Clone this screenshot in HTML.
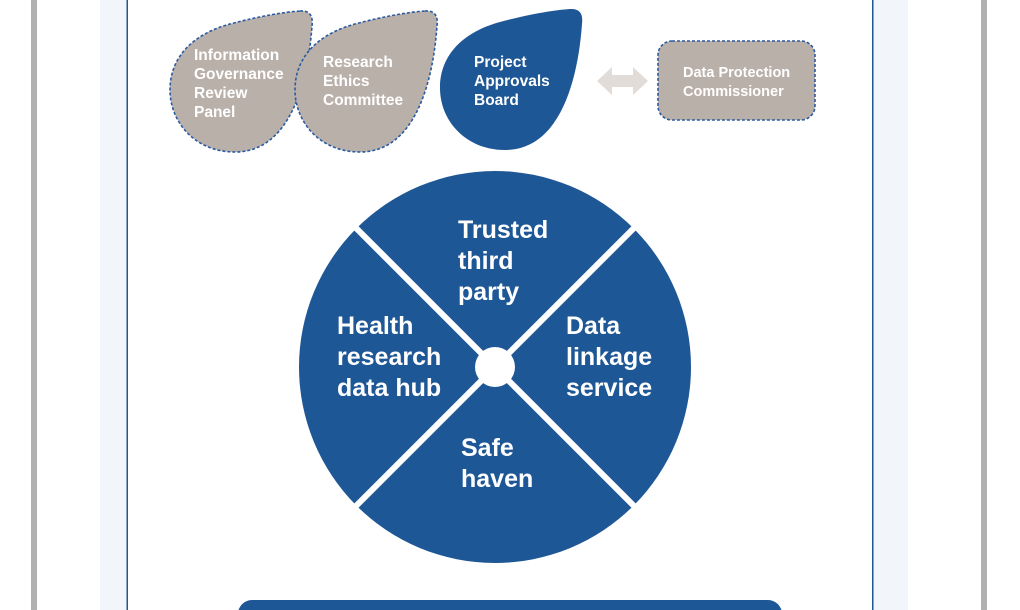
<!DOCTYPE html>
<html><head><meta charset="utf-8"><style>
html,body{margin:0;padding:0;background:#fff;}
body{width:1020px;height:610px;overflow:hidden;position:relative;font-family:"Liberation Sans",sans-serif;}
</style></head><body>
<svg width="1020" height="610" xmlns="http://www.w3.org/2000/svg" style="position:absolute;left:0;top:0">
<rect x="31" y="0" width="6" height="610" fill="#b1b1b1"/>
<rect x="981" y="0" width="6" height="610" fill="#b1b1b1"/>
<rect x="100" y="0" width="808" height="610" fill="#f2f6fa"/>
<rect x="128" y="0" width="744" height="610" fill="#fff"/>
<rect x="126.5" y="0" width="1.5" height="610" fill="#1e5796"/>
<rect x="872" y="0" width="1.5" height="610" fill="#1e5796"/>

<g stroke="#2a5aa0" stroke-width="1.6" stroke-dasharray="3,2" fill="#bab0aa">
<path transform="translate(-270,2)" d="M570,9 Q584,8 582,24 C578,80 560,150 505,150 C465,150 440,120 440,88 C440,50 470,30 500,22 C530,14 555,10 570,9 Z"/>
<path transform="translate(-145,2)" d="M570,9 Q584,8 582,24 C578,80 560,150 505,150 C465,150 440,120 440,88 C440,50 470,30 500,22 C530,14 555,10 570,9 Z"/>
<rect x="658" y="41" width="157" height="79" rx="14"/>
</g>
<path d="M570,9 Q584,8 582,24 C578,80 560,150 505,150 C465,150 440,120 440,88 C440,50 470,30 500,22 C530,14 555,10 570,9 Z" fill="#1e5796"/>
<path d="M597,81 L612,67 L612,75 L633,75 L633,67 L648,81 L633,95 L633,87 L612,87 L612,95 Z" fill="#e2dcd8"/>

<g fill="#fff" font-family="Liberation Sans, sans-serif" font-weight="bold" font-size="15.5">
<text x="194" y="60">Information</text><text x="194" y="79">Governance</text><text x="194" y="98">Review</text><text x="194" y="117">Panel</text>
<text x="323" y="67">Research</text><text x="323" y="86">Ethics</text><text x="323" y="105">Committee</text>
<text x="474" y="67">Project</text><text x="474" y="86">Approvals</text><text x="474" y="105">Board</text>
<text x="683" y="77" font-size="14.5">Data Protection</text><text x="683" y="96" font-size="14.5">Commissioner</text>
</g>

<circle cx="495" cy="367" r="196" fill="#1e5796"/>
<g stroke="#fff" stroke-width="6">
<line x1="354" y1="226" x2="636" y2="508"/>
<line x1="636" y1="226" x2="354" y2="508"/>
</g>
<circle cx="495" cy="367" r="20" fill="#fff"/>
<g fill="#fff" font-family="Liberation Sans, sans-serif" font-weight="bold" font-size="25">
<text x="458" y="238">Trusted</text><text x="458" y="269">third</text><text x="458" y="300">party</text>
<text x="337" y="334">Health</text><text x="337" y="365">research</text><text x="337" y="396">data hub</text>
<text x="566" y="334">Data</text><text x="566" y="365">linkage</text><text x="566" y="396">service</text>
<text x="461" y="456">Safe</text><text x="461" y="487">haven</text>
</g>
<rect x="238" y="600" width="544" height="40" rx="14" fill="#1e5796"/>
</svg>
</body></html>
